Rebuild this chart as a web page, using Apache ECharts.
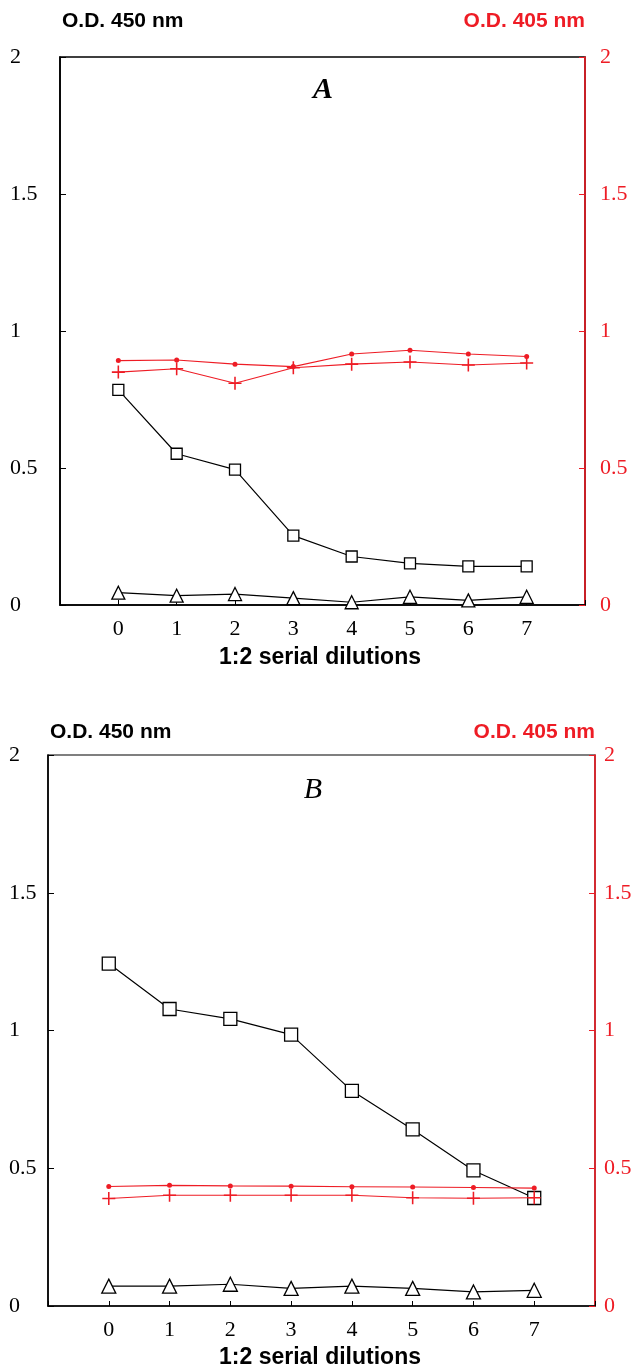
<!DOCTYPE html>
<html>
<head>
<meta charset="utf-8">
<script src="https://cdn.jsdelivr.net/npm/echarts@6/dist/echarts.min.js"></script>
<style>
html,body{margin:0;padding:0;background:#fff;}
#chart{width:644px;height:1372px;}
</style>
</head>
<body>
<div id="chart"></div>
<script>
// ---- data ----
const dilutions = [0, 1, 2, 3, 4, 5, 6, 7];
const yTickLabels = ['0', '0.5', '1', '1.5', '2'];
// Panel A
const A_square   = [0.785, 0.552, 0.494, 0.253, 0.177, 0.152, 0.141, 0.141];
const A_triangle = [0.045, 0.034, 0.040, 0.025, 0.010, 0.030, 0.017, 0.030];
const A_dot      = [0.892, 0.894, 0.879, 0.870, 0.916, 0.930, 0.916, 0.907];
const A_plus     = [0.850, 0.862, 0.809, 0.866, 0.879, 0.887, 0.876, 0.883];
// Panel B
const B_square   = [1.243, 1.078, 1.042, 0.985, 0.781, 0.641, 0.492, 0.392];
const B_triangle = [0.072, 0.072, 0.079, 0.064, 0.072, 0.064, 0.051, 0.057];
const B_dot      = [0.434, 0.438, 0.436, 0.435, 0.433, 0.432, 0.430, 0.428];
const B_plus     = [0.390, 0.402, 0.402, 0.402, 0.402, 0.393, 0.391, 0.393];

const RED = '#ee1c25';
const SERIF = '"Liberation Serif","Times New Roman",serif';
const SANS = '"Liberation Sans",Arial,sans-serif';
const PLUS = 'path://M4.4,0 H5.6 V4.4 H10 V5.6 H5.6 V10 H4.4 V5.6 H0 V4.4 H4.4 Z';

const pairs = arr => arr.map((v, i) => [dilutions[i], v]);

function xAxisFor(gridIndex) {
  return {
    type: 'value', gridIndex, min: -1, max: 8, interval: 1,
    axisLine: {show: true, onZero: false, lineStyle: {color: '#000', width: 1.6}},
    axisTick: {show: true, inside: true, length: 5, lineStyle: {color: '#000', width: 1}},
    axisLabel: {
      margin: 13, fontFamily: SERIF, fontSize: 22, color: '#000',
      formatter: v => (v >= 0 && v <= 7 ? String(dilutions[v]) : '')
    },
    splitLine: {show: false}
  };
}
function yAxisFor(gridIndex, position, color, margin) {
  return {
    type: 'value', gridIndex, position, min: 0, max: 2, interval: 0.5,
    axisLine: {show: true, onZero: false, lineStyle: {color, width: 1.6}},
    axisTick: {show: true, inside: true, length: 6, lineStyle: {color, width: 1}},
    axisLabel: {
      margin, align: 'left', fontFamily: SERIF, fontSize: 22, color,
      formatter: v => yTickLabels[Math.round(v / 0.5)]
    },
    splitLine: {show: false}
  };
}
function blackSeries(xi, yi, data, symbol, size) {
  return {
    type: 'line', xAxisIndex: xi, yAxisIndex: yi, data: pairs(data),
    symbol, symbolSize: size, showSymbol: true,
    lineStyle: {color: '#000', width: 1.2},
    itemStyle: {color: '#fff', borderColor: '#000', borderWidth: 1.3},
    z: 3, animation: false
  };
}
function redSeries(xi, yi, data, symbol, size) {
  return {
    type: 'line', xAxisIndex: xi, yAxisIndex: yi, data: pairs(data),
    symbol, symbolSize: size, showSymbol: true,
    lineStyle: {color: RED, width: 1.1},
    itemStyle: {color: RED, borderWidth: 0},
    z: 4, animation: false
  };
}
function txt(x, y, text, font, fill, align) {
  return {type: 'text', x, y, z: 10,
    style: {text, font, fill, align: align || 'left', verticalAlign: 'middle'}};
}

const chart = echarts.init(document.getElementById('chart'), null, {renderer: 'canvas'});
chart.setOption({
  backgroundColor: '#fff',
  animation: false,
  grid: [
    {left: 60, top: 57, width: 525, height: 548, show: true, borderColor: '#000', borderWidth: 1.6, backgroundColor: 'transparent'},
    {left: 48, top: 755, width: 547, height: 551, show: true, borderColor: '#000', borderWidth: 1.2, backgroundColor: 'transparent'}
  ],
  xAxis: [xAxisFor(0), xAxisFor(1)],
  yAxis: [
    yAxisFor(0, 'left', '#000', 50),
    yAxisFor(0, 'right', RED, 15),
    yAxisFor(1, 'left', '#000', 39),
    yAxisFor(1, 'right', RED, 9)
  ],
  series: [
    redSeries(0, 1, A_dot, 'circle', 5),
    redSeries(0, 1, A_plus, PLUS, 13),
    blackSeries(0, 0, A_square, 'rect', 11),
    blackSeries(0, 0, A_triangle, 'triangle', 13),
    redSeries(1, 3, B_dot, 'circle', 5),
    redSeries(1, 3, B_plus, PLUS, 13),
    blackSeries(1, 2, B_square, 'rect', 13),
    blackSeries(1, 2, B_triangle, 'triangle', 14)
  ],
  graphic: [
    txt(62, 21, 'O.D. 450 nm', 'bold 21px ' + SANS, '#000'),
    txt(585, 21, 'O.D. 405 nm', 'bold 21px ' + SANS, RED, 'right'),
    txt(323, 90, 'A', 'italic bold 30px ' + SERIF, '#000', 'center'),
    txt(320, 658, '1:2 serial dilutions', 'bold 23px ' + SANS, '#000', 'center'),
    txt(50, 732, 'O.D. 450 nm', 'bold 21px ' + SANS, '#000'),
    txt(595, 732, 'O.D. 405 nm', 'bold 21px ' + SANS, RED, 'right'),
    txt(313, 790, 'B', 'italic 30px ' + SERIF, '#000', 'center'),
    txt(320, 1358, '1:2 serial dilutions', 'bold 23px ' + SANS, '#000', 'center')
  ]
});
</script>
</body>
</html>
